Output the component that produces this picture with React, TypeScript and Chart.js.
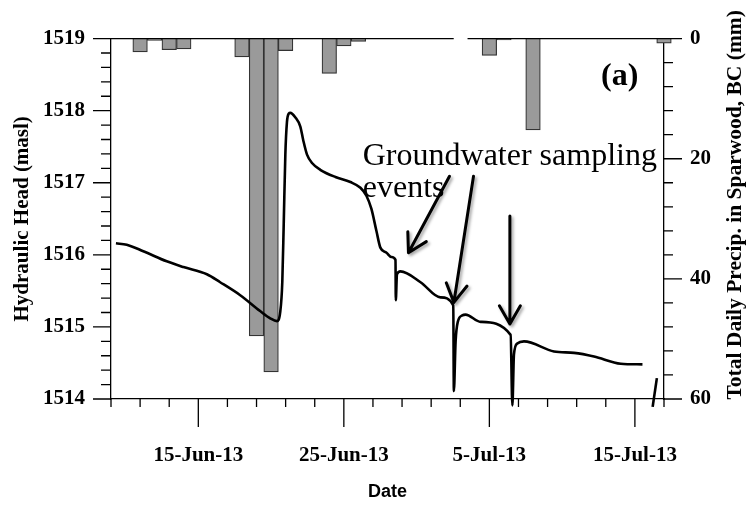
import React, { useEffect, useRef } from "react";
import { Chart, registerables } from "chart.js";

Chart.register(...registerables);

// Day numbers counted from 31 May 2013 (1-Jun = 1, 1-Jul = 31)
const xMinDay = 9;
const xMaxDay = 47;

// Total daily precipitation (mm), right axis
const precipDays = [11, 12, 13, 14, 18, 19, 20, 21, 24, 25, 26, 35, 36, 38, 47];
const precipMm = [2.2, 0.3, 1.85, 1.7, 3.05, 49.5, 55.5, 2.0, 5.8, 1.2, 0.45, 2.8, 0.2, 15.2, 0.75];

// Hydraulic head (masl), left axis
const headDays = [
  9.34, 10.08, 11.22, 12.83, 13.98, 15.59, 16.5, 17.88, 19.25, 19.94, 20.4, 20.63, 20.77,
  20.87, 20.98, 21.09, 21.22, 21.32, 21.66, 22.01, 22.21, 22.47, 22.83, 23.38, 24.42, 25.45,
  26.14, 26.55, 26.89, 27.24, 27.51, 27.93, 28.27, 28.55, 28.57, 28.65, 28.89, 30.27, 31.64,
  32.52, 32.56, 32.68, 32.83, 33.14, 33.36, 34.4, 36.46, 36.58, 36.69, 36.92, 37.38, 39.44,
  40.82, 42.19, 44.03, 45.52,
];
const headMasl = [
  1516.16, 1516.14, 1516.05, 1515.91, 1515.83, 1515.73, 1515.62, 1515.44, 1515.22, 1515.12,
  1515.08, 1515.21, 1515.62, 1516.44, 1517.39, 1517.84, 1517.96, 1517.97, 1517.91, 1517.78,
  1517.59, 1517.39, 1517.27, 1517.18, 1517.08, 1517.01, 1516.93, 1516.82, 1516.64, 1516.33,
  1516.1, 1516.03, 1515.97, 1515.93, 1515.37, 1515.73, 1515.77, 1515.62, 1515.41, 1515.3,
  1514.11, 1514.8, 1515.07, 1515.16, 1515.17, 1515.07, 1514.89, 1513.91, 1514.62, 1514.77,
  1514.8, 1514.66, 1514.64, 1514.59, 1514.49, 1514.48,
];

// short stray segment near the lower right corner
const strayDays = [46.51, 46.22];
const strayMasl = [1514.29, 1513.89];

// Axis ticks and labels
const xTickDays = [9, 11, 13, 15, 17, 19, 21, 23, 25, 27, 29, 31, 33, 35, 37, 39, 41, 43, 45, 47];
const xLabelDays = [15, 25, 35, 45];
const xLabels = ["15-Jun-13", "25-Jun-13", "5-Jul-13", "15-Jul-13"];
const headTicks = Array.from({ length: 26 }, (_, i) => Math.round((1514 + i * 0.2) * 10) / 10);
const headLabelValues = [1514, 1515, 1516, 1517, 1518, 1519];
const precipTicks = Array.from({ length: 16 }, (_, i) => i * 4);
const precipLabelValues = [0, 20, 40, 60];

// Annotations (in data coordinates)
const noteLines = ["Groundwater sampling", "events"];
const noteDay = 26.3;
const noteHeads = [1517.25, 1516.8];
const panelLabel = "(a)";
const panelDay = 43.96;
const panelHead = 1518.47;
const arrowFromDays = [32.26, 33.91, 36.41];
const arrowFromHeads = [1517.09, 1517.09, 1516.54];
const arrowToDays = [29.44, 32.56, 36.41];
const arrowToHeads = [1516.03, 1515.34, 1515.04];
const topGapDays = [32.55, 33.5];

const SERIF = "'Liberation Serif', 'Times New Roman', serif";
const SANS = "'Liberation Sans', Arial, sans-serif";

const decorPlugin = {
  id: "decor",
  afterDraw(chart: any) {
    const { ctx, chartArea: ca, scales } = chart;
    const x = scales.x;
    const y = scales.y;
    const y2 = scales.y2;
    ctx.save();
    ctx.strokeStyle = "#000";
    ctx.lineWidth = 1.3;
    ctx.beginPath();
    x.ticks.forEach((t: any) => {
      const px = x.getPixelForValue(t.value);
      const len = xLabelDays.includes(t.value) ? 28 : 8;
      ctx.moveTo(px, ca.bottom);
      ctx.lineTo(px, ca.bottom + len);
    });
    y.ticks.forEach((t: any) => {
      const py = y.getPixelForValue(t.value);
      const len = headLabelValues.includes(t.value) ? 18 : 10;
      ctx.moveTo(ca.left - len, py);
      ctx.lineTo(ca.left, py);
    });
    y2.ticks.forEach((t: any) => {
      const py = y2.getPixelForValue(t.value);
      const len = precipLabelValues.includes(t.value) ? 18 : 9;
      ctx.moveTo(ca.right, py);
      ctx.lineTo(ca.right + len, py);
    });
    ctx.moveTo(ca.left, ca.top);
    ctx.lineTo(x.getPixelForValue(topGapDays[0]), ca.top);
    ctx.moveTo(x.getPixelForValue(topGapDays[1]), ca.top);
    ctx.lineTo(ca.right, ca.top);
    ctx.stroke();

    // right axis title (reads bottom to top)
    ctx.save();
    ctx.translate(y2.right - 12, (ca.top + ca.bottom) / 2 - 14);
    ctx.rotate(-Math.PI / 2);
    ctx.fillStyle = "#000";
    ctx.font = `bold 21.5px ${SERIF}`;
    ctx.textAlign = "center";
    ctx.textBaseline = "middle";
    ctx.fillText("Total Daily Precip. in Sparwood, BC (mm)", 0, 0);
    ctx.restore();

    // panel label
    ctx.fillStyle = "#000";
    ctx.font = `bold 32px ${SERIF}`;
    ctx.textAlign = "center";
    ctx.textBaseline = "middle";
    ctx.fillText(panelLabel, x.getPixelForValue(panelDay), y.getPixelForValue(panelHead));

    // note text
    ctx.font = `32px ${SERIF}`;
    ctx.textAlign = "left";
    ctx.textBaseline = "alphabetic";
    noteLines.forEach((line, i) => {
      ctx.fillText(line, x.getPixelForValue(noteDay), y.getPixelForValue(noteHeads[i]));
    });

    // arrows
    ctx.shadowColor = "rgba(0,0,0,0.35)";
    ctx.shadowBlur = 3;
    ctx.shadowOffsetX = 2;
    ctx.shadowOffsetY = 2;
    ctx.lineWidth = 3;
    ctx.lineCap = "round";
    ctx.lineJoin = "round";
    for (let i = 0; i < arrowFromDays.length; i++) {
      const x0 = x.getPixelForValue(arrowFromDays[i]);
      const y0 = y.getPixelForValue(arrowFromHeads[i]);
      const x1 = x.getPixelForValue(arrowToDays[i]);
      const y1 = y.getPixelForValue(arrowToHeads[i]);
      const ang = Math.atan2(y0 - y1, x0 - x1);
      const head = 21;
      const spread = Math.PI / 6;
      ctx.beginPath();
      ctx.moveTo(x0, y0);
      ctx.lineTo(x1, y1);
      ctx.moveTo(x1 + head * Math.cos(ang - spread), y1 + head * Math.sin(ang - spread));
      ctx.lineTo(x1, y1);
      ctx.lineTo(x1 + head * Math.cos(ang + spread), y1 + head * Math.sin(ang + spread));
      ctx.stroke();
    }
    ctx.restore();
  },
};

export default function App() {
  const canvasRef = useRef<HTMLCanvasElement | null>(null);

  useEffect(() => {
    if (!canvasRef.current) return;
    const chart = new Chart(canvasRef.current, {
      type: "bar",
      data: {
        datasets: [
          {
            type: "line",
            label: "Hydraulic Head",
            data: headDays.map((d, i) => ({ x: d, y: headMasl[i] })),
            yAxisID: "y",
            borderColor: "#000",
            borderWidth: 2.6,
            pointRadius: 0,
            cubicInterpolationMode: "monotone",
            clip: false,
            order: 0,
          } as any,
          {
            type: "line",
            label: "stray",
            data: strayDays.map((d, i) => ({ x: d, y: strayMasl[i] })),
            yAxisID: "y",
            borderColor: "#000",
            borderWidth: 2.6,
            pointRadius: 0,
            clip: false,
            order: 0,
          } as any,
          {
            type: "bar",
            label: "Precipitation",
            data: precipDays.map((d, i) => ({ x: d, y: precipMm[i] })),
            yAxisID: "y2",
            backgroundColor: "#9a9a9a",
            borderColor: "#333",
            borderWidth: 1.2,
            barPercentage: 1,
            categoryPercentage: 1,
            clip: false,
            order: 1,
          } as any,
        ],
      },
      options: {
        responsive: false,
        animation: false,
        devicePixelRatio: 1,
        layout: { padding: { top: 32, left: 0, right: 0, bottom: 0 } },
        plugins: { legend: { display: false }, tooltip: { enabled: false } },
        scales: {
          x: {
            type: "linear",
            position: "bottom",
            offset: false,
            min: xMinDay,
            max: xMaxDay,
            grid: { display: false, drawTicks: false, tickLength: 0, offset: false },
            border: { display: true, color: "#000", width: 1.3 },
            afterBuildTicks: (s: any) => {
              s.ticks = xTickDays.map((v) => ({ value: v }));
            },
            afterFit: (s: any) => {
              s.height = 118;
            },
            ticks: {
              autoSkip: false,
              maxRotation: 0,
              minRotation: 0,
              padding: 44,
              color: "#000",
              font: { family: SERIF, size: 21, weight: "bold" },
              callback: (v: any) => {
                const k = xLabelDays.indexOf(Number(v));
                return k >= 0 ? xLabels[k] : "";
              },
            },
            title: {
              display: true,
              text: "Date",
              color: "#000",
              font: { family: SANS, size: 18, weight: "bold" },
              padding: { top: 0, bottom: 14 },
            },
          },
          y: {
            type: "linear",
            position: "left",
            min: 1514,
            max: 1519,
            grid: { display: false, drawTicks: false, tickLength: 0 },
            border: { display: true, color: "#000", width: 1.3 },
            afterBuildTicks: (s: any) => {
              s.ticks = headTicks.map((v) => ({ value: v }));
            },
            afterFit: (s: any) => {
              s.width = 111;
            },
            ticks: {
              autoSkip: false,
              padding: 26,
              color: "#000",
              font: { family: SERIF, size: 21, weight: "bold" },
              callback: (v: any) => (headLabelValues.includes(Number(v)) ? String(v) : ""),
            },
            title: {
              display: true,
              text: "Hydraulic Head (masl)",
              color: "#000",
              font: { family: SERIF, size: 21, weight: "bold" },
              padding: { top: 10, bottom: 0 },
            },
          },
          y2: {
            type: "linear",
            position: "right",
            reverse: true,
            min: 0,
            max: 60,
            grid: { display: false, drawTicks: false, tickLength: 0 },
            border: { display: true, color: "#000", width: 1.3 },
            afterBuildTicks: (s: any) => {
              s.ticks = precipTicks.map((v) => ({ value: v }));
            },
            afterFit: (s: any) => {
              s.width = 83;
            },
            ticks: {
              autoSkip: false,
              padding: 26,
              color: "#000",
              font: { family: SERIF, size: 21, weight: "bold" },
              callback: (v: any) => (precipLabelValues.includes(Number(v)) ? String(v) : ""),
            },
          },
        },
      } as any,
      plugins: [decorPlugin],
    });
    return () => chart.destroy();
  }, []);

  return (
    <div style={{ position: "fixed", left: 0, top: 0, width: 747, height: 517, background: "#fff" }}>
      <canvas ref={canvasRef} width={747} height={517} style={{ display: "block" }} />
    </div>
  );
}
